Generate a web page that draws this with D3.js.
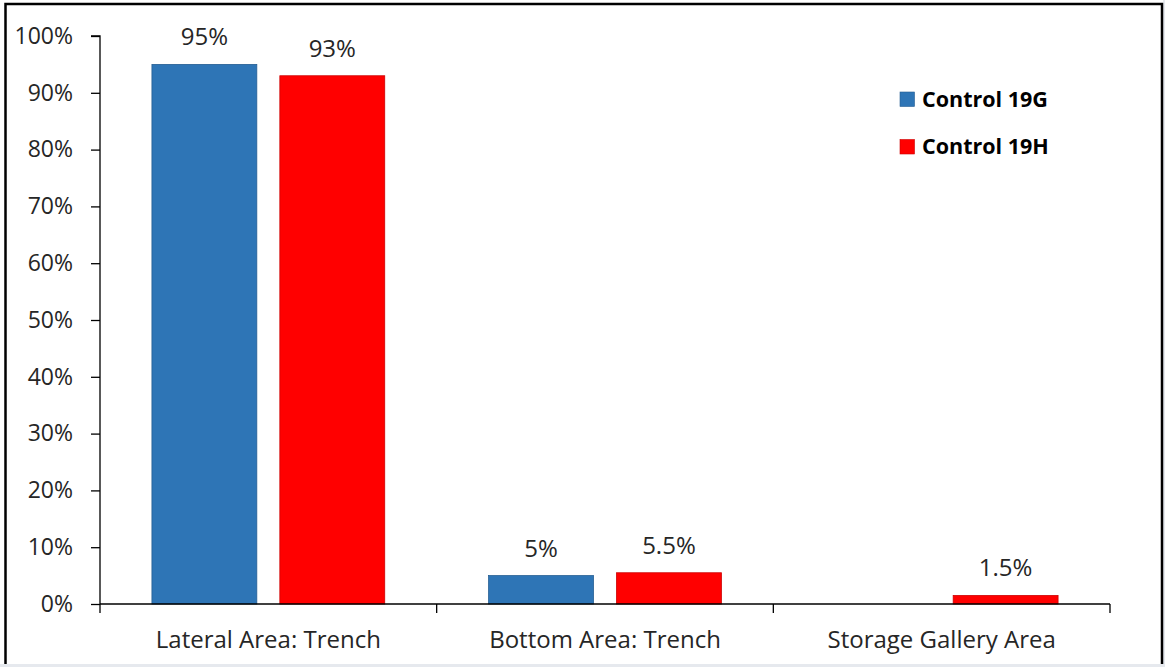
<!DOCTYPE html>
<html>
<head>
<meta charset="utf-8">
<script src="https://cdn.jsdelivr.net/npm/d3@7"></script>
<style>
  html, body { margin: 0; padding: 0; background: #fff; }
  svg { display: block; }
  text { font-family: "Open Sans", "Liberation Sans", sans-serif; fill: #262626; }
</style>
</head>
<body>
<svg id="chart" width="1165" height="667"></svg>
<script>
// Chart data
const categories = ["Lateral Area: Trench", "Bottom Area: Trench", "Storage Gallery Area"];
const seriesNames = ["Control 19G", "Control 19H"];
const seriesColors = ["#2e75b6", "#ff0000"];
const control19G = [95, 5, null];
const control19H = [93, 5.5, 1.5];
const valueLabels19G = ["95%", "5%", ""];
const valueLabels19H = ["93%", "5.5%", "1.5%"];
const yTicks = [0, 10, 20, 30, 40, 50, 60, 70, 80, 90, 100];

const svg = d3.select("#chart");
const W = 1165, H = 667;
const FONT = '"Open Sans", "Liberation Sans", sans-serif';

// Frame
svg.append("rect").attr("x", 0).attr("y", 664).attr("width", W).attr("height", 3).attr("fill", "#e6e9ee");
svg.append("rect").attr("x", 1163).attr("y", 0).attr("width", 2).attr("height", H).attr("fill", "#e6e9ee");
svg.append("path")
  .attr("d", "M5.5,664 V4 H1162 V664")
  .attr("fill", "none").attr("stroke", "#000").attr("stroke-width", 2.5);

const plot = { left: 100, right: 1110, top: 36, bottom: 604 };

const x0 = d3.scaleBand().domain(categories).range([plot.left, plot.right]).paddingInner(0).paddingOuter(0);
const x1 = d3.scaleBand().domain(seriesNames).range([0, x0.bandwidth()]).paddingInner(0.18).paddingOuter(0.406);
const y = d3.scaleLinear().domain([0, 100]).range([plot.bottom, plot.top]);

// Y axis
const yAxis = d3.axisLeft(y).tickValues(yTicks).tickFormat(d => d + "%").tickSize(9).tickPadding(18);
const gy = svg.append("g").attr("transform", `translate(${plot.left},0)`).call(yAxis);
gy.select(".domain").attr("d", `M-9,${plot.top}H0V${plot.bottom}`).attr("stroke", "#000").attr("stroke-width", 1.3);
gy.selectAll(".tick line").attr("stroke", "#000").attr("stroke-width", 1.3);
gy.selectAll(".tick text").attr("font-size", 23).attr("fill", "#262626").style("font-family", FONT);

// Bars
const data = categories.map((c, i) => ({
  cat: c,
  vals: [
    { s: seriesNames[0], v: control19G[i], label: valueLabels19G[i], color: seriesColors[0] },
    { s: seriesNames[1], v: control19H[i], label: valueLabels19H[i], color: seriesColors[1] }
  ]
}));

const groups = svg.append("g").selectAll("g").data(data).join("g")
  .attr("transform", d => `translate(${x0(d.cat)},0)`);

groups.selectAll("rect").data(d => d.vals.filter(v => v.v != null)).join("rect")
  .attr("x", d => x1(d.s))
  .attr("width", x1.bandwidth())
  .attr("y", d => y(d.v))
  .attr("height", d => y(0) - y(d.v))
  .attr("fill", d => d.color)
  .attr("stroke", d => d3.color(d.color).darker(0.6))
  .attr("stroke-width", 0.8);

groups.selectAll("text.val").data(d => d.vals.filter(v => v.v != null)).join("text")
  .attr("class", "val")
  .attr("x", d => x1(d.s) + x1.bandwidth() / 2)
  .attr("y", d => y(d.v) - 19)
  .attr("text-anchor", "middle")
  .attr("font-size", 24)
  .text(d => d.label);

// X axis
const gx = svg.append("g").attr("transform", `translate(0,${plot.bottom})`);
gx.append("line").attr("x1", plot.left).attr("x2", plot.right).attr("y1", 0).attr("y2", 0)
  .attr("stroke", "#000").attr("stroke-width", 1.3);
const boundaries = categories.map(c => x0(c)).concat([plot.right]);
gx.selectAll("line.tick").data(boundaries).join("line")
  .attr("class", "tick")
  .attr("x1", d => d).attr("x2", d => d).attr("y1", 0).attr("y2", 9)
  .attr("stroke", "#000").attr("stroke-width", 1.3);
gx.selectAll("text").data(categories).join("text")
  .attr("x", d => x0(d) + x0.bandwidth() / 2)
  .attr("y", 44)
  .attr("text-anchor", "middle")
  .attr("font-size", 24)
  .text(d => d);

// Legend
const legend = svg.append("g").attr("transform", "translate(900,92)");
const li = legend.selectAll("g").data(seriesNames).join("g")
  .attr("transform", (d, i) => `translate(0,${i * 47.5})`);
li.append("rect").attr("width", 14.5).attr("height", 14.5)
  .attr("fill", (d, i) => seriesColors[i])
  .attr("stroke", (d, i) => d3.color(seriesColors[i]).darker(0.6)).attr("stroke-width", 0.6);
li.append("text").attr("x", 22).attr("y", 14.5)
  .attr("font-size", 21.5).attr("font-weight", "bold")
  .style("fill", "#000")
  .text(d => d);
</script>
</body>
</html>
